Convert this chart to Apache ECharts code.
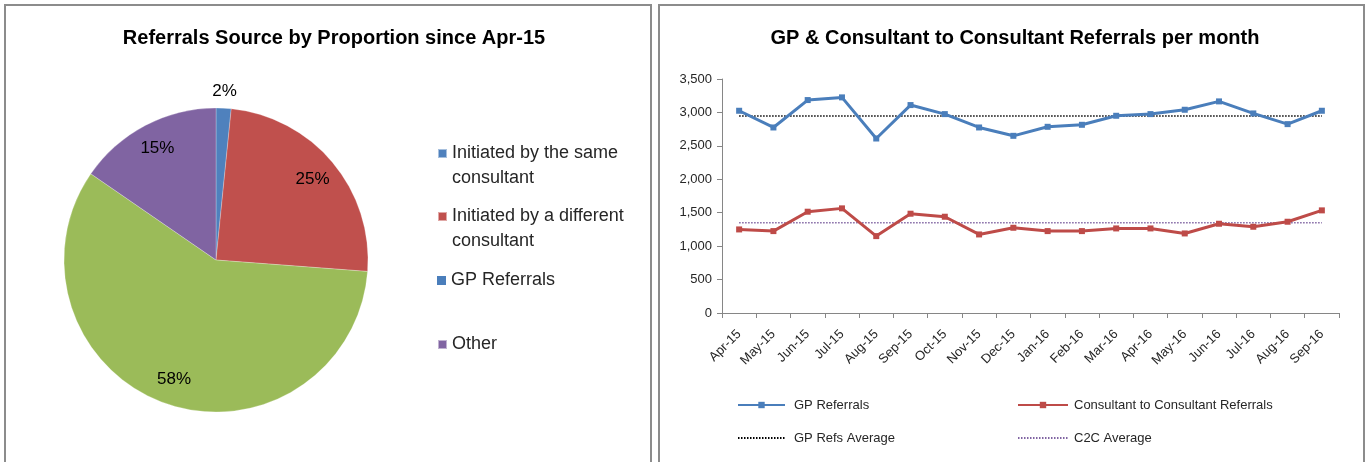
<!DOCTYPE html>
<html>
<head>
<meta charset="utf-8">
<title>Referrals</title>
<script src="https://cdn.jsdelivr.net/npm/echarts@6/dist/echarts.min.js"></script>
<style>
  html, body { margin: 0; padding: 0; background: #fff; }
  #main { width: 1369px; height: 462px; }
</style>
</head>
<body>
<div id="main"></div>
<script>
// 饼图数据 (percent)
var sourceNames = ['Initiated by the same consultant', 'Initiated by a different consultant', 'GP Referrals', 'Other'];
var sourceShares = [1.6, 24.6, 58.4, 15.4];
var sourceColors = ['#4F81BD', '#C0504D', '#9BBB59', '#8064A2'];

// 折线图数据
var months = ['Apr-15', 'May-15', 'Jun-15', 'Jul-15', 'Aug-15', 'Sep-15', 'Oct-15', 'Nov-15', 'Dec-15',
  'Jan-16', 'Feb-16', 'Mar-16', 'Apr-16', 'May-16', 'Jun-16', 'Jul-16', 'Aug-16', 'Sep-16'];
var gpReferrals = [3025, 2775, 3185, 3225, 2610, 3110, 2975, 2775, 2650,
  2785, 2815, 2950, 2975, 3040, 3165, 2985, 2825, 3025];
var c2cReferrals = [1250, 1225, 1515, 1565, 1150, 1485, 1440, 1175, 1275,
  1225, 1225, 1265, 1265, 1190, 1335, 1290, 1365, 1535];
var gpAverage = [2945, 2945, 2945, 2945, 2945, 2945, 2945, 2945, 2945,
  2945, 2945, 2945, 2945, 2945, 2945, 2945, 2945, 2945];
var c2cAverage = [1350, 1350, 1350, 1350, 1350, 1350, 1350, 1350, 1350,
  1350, 1350, 1350, 1350, 1350, 1350, 1350, 1350, 1350];

var FONT = "'Liberation Sans', Arial, sans-serif";
var TEXT = '#262626';

// 图例文字 (前置空行使第一行与色块对齐)
var legendLabels = {
  'Initiated by the same consultant': '\nInitiated by the same\nconsultant',
  'Initiated by a different consultant': '\nInitiated by a different\nconsultant',
  'GP Referrals': 'GP Referrals',
  'Other': 'Other'
};
var legendTops = [116, 179, 268, 332];

var pieData = sourceNames.map(function (n, i) {
  return { name: n, value: sourceShares[i], itemStyle: { color: sourceColors[i] } };
});
// 标签层 (透明), 小扇区的标签放在外圈
function labelLayer(outer) {
  return sourceNames.map(function (n, i) {
    var show = outer ? i === 0 : i !== 0;
    return { name: n, value: sourceShares[i], label: { show: show } };
  });
}

function pieLegend(name, i) {
  return {
    orient: 'vertical', left: 437, top: legendTops[i], padding: 0,
    data: [name], itemWidth: 9, itemHeight: 9, icon: 'rect',
    selectedMode: false,
    formatter: function (n) { return legendLabels[n]; },
    textStyle: { fontFamily: FONT, fontSize: 18, color: TEXT, lineHeight: 25 }
  };
}

var chart = echarts.init(document.getElementById('main'));

var transparentPie = {
  type: 'pie', center: [216, 260], startAngle: 90, clockwise: true,
  silent: true, legendHoverLink: false,
  itemStyle: { color: 'rgba(0,0,0,0)' },
  labelLine: { show: false },
  emphasis: { disabled: true }
};

var option = {
  animation: false,
  textStyle: { fontFamily: FONT },
  graphic: [
    { type: 'rect', shape: { x: 5, y: 5, width: 646, height: 470 }, style: { fill: 'none', stroke: '#8c8c8c', lineWidth: 2 } },
    { type: 'rect', shape: { x: 659, y: 5, width: 705, height: 470 }, style: { fill: 'none', stroke: '#8c8c8c', lineWidth: 2 } }
  ],
  title: [
    { text: 'Referrals Source by Proportion since Apr-15', left: 329, top: 23, textAlign: 'center',
      textStyle: { fontFamily: FONT, fontSize: 20, fontWeight: 'bold', color: '#000' } },
    { text: 'GP & Consultant to Consultant Referrals per month', left: 1010, top: 23, textAlign: 'center',
      textStyle: { fontFamily: FONT, fontSize: 20, fontWeight: 'bold', color: '#000' } }
  ],
  legend: sourceNames.map(pieLegend).concat([
    {
      orient: 'vertical', left: 737, top: 397, padding: 0,
      data: [
        { name: 'GP Referrals' },
        { name: 'GP Refs Average', itemStyle: { opacity: 0 } }
      ],
      itemWidth: 47, itemHeight: 8, itemGap: 17,
      selectedMode: false,
      textStyle: { fontFamily: FONT, fontSize: 13, color: TEXT, lineHeight: 16, padding: [0, 0, 0, 4] }
    },
    {
      orient: 'vertical', left: 1017, top: 397, padding: 0,
      data: [
        { name: 'Consultant to Consultant Referrals' },
        { name: 'C2C Average', itemStyle: { opacity: 0 } }
      ],
      itemWidth: 50, itemHeight: 8, itemGap: 17,
      selectedMode: false,
      textStyle: { fontFamily: FONT, fontSize: 13, color: TEXT, lineHeight: 16, padding: [0, 0, 0, 1] }
    }
  ]),
  grid: { left: 722, right: 30, top: 79, bottom: 149, containLabel: false },
  xAxis: {
    type: 'category', data: months, boundaryGap: true,
    axisLine: { lineStyle: { color: '#868686', width: 1 } },
    axisTick: { show: true, length: 5, interval: 0, lineStyle: { color: '#868686' } },
    axisLabel: { interval: 0, rotate: 45, margin: 19, fontFamily: FONT, fontSize: 13, color: TEXT }
  },
  yAxis: {
    type: 'value', min: 0, max: 3500, interval: 500,
    axisLine: { show: true, lineStyle: { color: '#868686', width: 1 } },
    axisTick: { show: true, length: 5, lineStyle: { color: '#868686' } },
    splitLine: { show: false },
    axisLabel: {
      margin: 10, fontFamily: FONT, fontSize: 13, color: TEXT,
      formatter: function (v) { return v.toLocaleString('en-US'); }
    }
  },
  series: [
    {
      type: 'pie', name: 'Sources', center: [216, 260], radius: 152, startAngle: 90, clockwise: true,
      data: pieData, label: { show: false }, labelLine: { show: false },
      itemStyle: { borderColor: 'rgba(255,255,255,0.5)', borderWidth: 0.5 },
      emphasis: { disabled: true }
    },
    Object.assign({}, transparentPie, {
      name: 'SourceLabels', radius: [94, 152], data: labelLayer(false),
      label: { position: 'inside', fontFamily: FONT, fontSize: 17, color: '#000',
        formatter: function (p) { return Math.round(p.value) + '%'; } }
    }),
    Object.assign({}, transparentPie, {
      name: 'SourceLabelsOuter', radius: [152, 180], data: labelLayer(true),
      label: { position: 'inside', fontFamily: FONT, fontSize: 17, color: '#000',
        formatter: function (p) { return Math.round(p.value) + '%'; } }
    }),
    {
      type: 'line', name: 'GP Referrals', data: gpReferrals,
      symbol: 'rect', symbolSize: 6, showSymbol: true,
      lineStyle: { color: '#4A7EBB', width: 3 }, itemStyle: { color: '#4A7EBB' }, z: 3
    },
    {
      type: 'line', name: 'Consultant to Consultant Referrals', data: c2cReferrals,
      symbol: 'rect', symbolSize: 6, showSymbol: true,
      lineStyle: { color: '#BE4B48', width: 3 }, itemStyle: { color: '#BE4B48' }, z: 3
    },
    {
      type: 'line', name: 'GP Refs Average', data: gpAverage, symbol: 'none',
      lineStyle: { color: '#000', width: 1.5, type: [1.5, 1.5] }, itemStyle: { color: '#000' }, z: 2
    },
    {
      type: 'line', name: 'C2C Average', data: c2cAverage, symbol: 'none',
      lineStyle: { color: '#8064A2', width: 1.5, type: [1.5, 1.5] }, itemStyle: { color: '#8064A2' }, z: 2
    }
  ]
};

chart.setOption(option);
</script>
</body>
</html>
